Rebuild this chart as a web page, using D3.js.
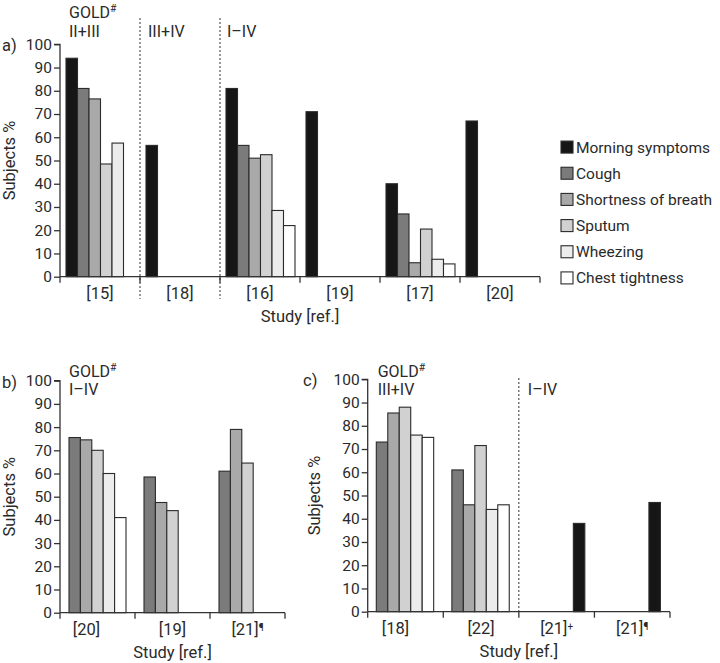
<!DOCTYPE html>
<html>
<head>
<meta charset="utf-8">
<script src="https://cdn.jsdelivr.net/npm/d3@7"></script>
<style>
  html, body { margin: 0; padding: 0; background: #fff; }
  svg text { font-family: Roboto, "DejaVu Sans", sans-serif; fill: #2a2a2a; }
</style>
</head>
<body>
<svg id="chart" width="720" height="663"></svg>
<script>
// ---------- data ----------
const series = ["Morning symptoms", "Cough", "Shortness of breath", "Sputum", "Wheezing", "Chest tightness"];
const seriesColors = ["#161616", "#7b7b7b", "#a9a9a9", "#d1d1d1", "#ececec", "#ffffff"];
const yTicks = [0, 10, 20, 30, 40, 50, 60, 70, 80, 90, 100];

// panel a
const studiesA = ["[15]", "[18]", "[16]", "[19]", "[17]", "[20]"];
const morningA  = [94, 56.5, 81, 71, 40, 67];
const coughA    = [81, null, 56.5, null, 27, null];
const sobA      = [76.5, null, 51, null, 6, null];
const sputumA   = [48.5, null, 52.5, null, 20.5, null];
const wheezingA = [57.5, null, 28.5, null, 7.5, null];
const chestA    = [null, null, 22, null, 5.5, null];

// panel b
const studiesB = ["[20]", "[19]", "[21]¶"];
const coughB    = [75.5, 58.5, 61];
const sobB      = [74.5, 47.5, 79];
const sputumB   = [70, 44, 64.5];
const wheezingB = [60, null, null];
const chestB    = [41, null, null];

// panel c
const studiesC = ["[18]", "[22]", "[21]+", "[21]¶"];
const morningC  = [null, null, 38, 47];
const coughC    = [73, 61, null, null];
const sobC      = [85.5, 46, null, null];
const sputumC   = [88, 71.5, null, null];
const wheezingC = [76, 44, null, null];
const chestC    = [75, 46, null, null];

// ---------- build ----------
const svg = d3.select("#chart");
const colorScale = d3.scaleOrdinal().domain(series).range(seriesColors);
const FS = "15.5px", FT = "16.5px";

function drawPanel(cfg) {
  const g = svg.append("g");
  const x = d3.scaleBand().domain(d3.range(cfg.studies.length)).range([cfg.x0, cfg.x1]);
  const y = d3.scaleLinear().domain([0, 100]).range([cfg.yb, cfg.yt]);
  const inner = d3.scaleBand().domain(d3.range(cfg.nSlots))
    .range([cfg.innerPad, x.bandwidth() - cfg.innerPadR]);

  // bars
  const records = [];
  cfg.values.forEach((arr, si) => {
    arr.forEach((v, gi) => {
      if (v !== null) records.push({ s: cfg.names[si], slot: cfg.slots[si], gi, v });
    });
  });
  g.selectAll("rect.bar").data(records).join("rect")
    .attr("class", "bar")
    .attr("x", d => x(d.gi) + inner(d.slot))
    .attr("width", inner.bandwidth())
    .attr("y", d => y(d.v))
    .attr("height", d => y(0) - y(d.v))
    .attr("fill", d => colorScale(d.s))
    .attr("stroke", "#2b2b2b")
    .attr("stroke-width", 1.1);

  // y axis
  const yAxis = g.append("g").attr("transform", `translate(${cfg.x0},0)`)
    .call(d3.axisLeft(y).tickValues(yTicks).tickSize(6).tickPadding(2));
  yAxis.selectAll("path, line").attr("stroke", "#333").attr("stroke-width", 1.3);
  yAxis.selectAll("text").style("font-size", FS).attr("fill", "#2a2a2a");
  yAxis.select(".domain").attr("d", `M-6,${y(100)}H0V${y(0)}`);

  // x axis
  g.append("line").attr("x1", cfg.x0).attr("x2", cfg.x1)
    .attr("y1", y(0)).attr("y2", y(0)).attr("stroke", "#333").attr("stroke-width", 1.3);
  const bounds = cfg.studies.map((d, i) => x(i)).concat([cfg.x1]);
  g.selectAll("line.xt").data(bounds).join("line").attr("class", "xt")
    .attr("x1", d => d).attr("x2", d => d)
    .attr("y1", y(0)).attr("y2", y(0) + 6)
    .attr("stroke", "#333").attr("stroke-width", 1.3);
  const lab = g.selectAll("text.xl").data(cfg.studies).join("text").attr("class", "xl")
    .attr("x", (d, i) => x(i) + x.bandwidth() / 2 + (cfg.labelDx ? cfg.labelDx[i] : 0))
    .attr("y", y(0) + 22)
    .attr("text-anchor", "middle")
    .style("font-size", FT);
  lab.each(function (d) {
    const t = d3.select(this);
    const m = d.match(/^(\[\d+\])(.*)$/);
    t.append("tspan").text(m[1]);
    if (m[2]) t.append("tspan").text(m[2]).attr("dy", -4).style("font-size", "10px");
  });

  g.append("text").attr("x", (cfg.x0 + cfg.x1) / 2 + (cfg.titleDx || 0)).attr("y", y(0) + 45)
    .attr("text-anchor", "middle").style("font-size", FT).text("Study [ref.]");

  g.append("text")
    .attr("transform", `translate(${cfg.ylabX},${(y(0) + y(100)) / 2}) rotate(-90)`)
    .attr("text-anchor", "middle").style("font-size", FT).text("Subjects %");

  g.append("text").attr("x", cfg.panelX).attr("y", y(100) + 7)
    .style("font-size", FT).text(cfg.panelLabel);

  // dotted separators
  cfg.dividers.forEach(dv => {
    g.append("line").attr("x1", x(dv.at)).attr("x2", x(dv.at))
      .attr("y1", dv.top).attr("y2", dv.bottom)
      .attr("stroke", "#333").attr("stroke-width", 1).attr("stroke-dasharray", "2,2");
  });

  // GOLD annotations
  cfg.notes.forEach(n => {
    const t = g.append("text").attr("x", x(n.at) + n.dx).attr("y", n.y).style("font-size", "16px");
    const parts = n.text.split("#");
    t.append("tspan").text(parts[0]);
    if (n.text.includes("#")) t.append("tspan").text("#").attr("dy", -6).style("font-size", "10.5px");
  });
  return { x, y };
}

// panel a
drawPanel({
  studies: studiesA, x0: 60, x1: 540, yb: 276.7, yt: 44.3,
  nSlots: 6, innerPad: 6, innerPadR: 5,
  names: series, slots: [0, 1, 2, 3, 4, 5],
  values: [morningA, coughA, sobA, sputumA, wheezingA, chestA],
  ylabX: 15, panelX: 2, panelLabel: "a)",
  dividers: [{ at: 1, top: 18, bottom: 299 }, { at: 2, top: 18, bottom: 299 }],
  notes: [
    { at: 0, dx: 9, y: 18, text: "GOLD#" },
    { at: 0, dx: 9, y: 36.5, text: "II+III" },
    { at: 1, dx: 8, y: 36.5, text: "III+IV" },
    { at: 2, dx: 7, y: 36.5, text: "I–IV" }
  ]
});

// panel b
drawPanel({
  studies: studiesB, x0: 60, x1: 285, yb: 612.7, yt: 380.7,
  nSlots: 5, innerPad: 9, innerPadR: 9,
  names: series.slice(1), slots: [0, 1, 2, 3, 4],
  values: [coughB, sobB, sputumB, wheezingB, chestB],
  labelDx: [-11, 0, 0],
  ylabX: 15, panelX: 2, panelLabel: "b)",
  dividers: [],
  notes: [
    { at: 0, dx: 9, y: 377, text: "GOLD#" },
    { at: 0, dx: 9, y: 395, text: "I–IV" }
  ]
});

// panel c
drawPanel({
  studies: studiesC, x0: 367.7, x1: 670, yb: 611.7, yt: 379.3,
  nSlots: 5, innerPad: 8.6, innerPadR: 9.6,
  names: series.slice(1).concat([series[0]]), slots: [0, 1, 2, 3, 4, 4],
  values: [coughC, sobC, sputumC, wheezingC, chestC, morningC],
  labelDx: [-10, 0, 0, 0],
  ylabX: 320, panelX: 303, panelLabel: "c)",
  dividers: [{ at: 2, top: 378, bottom: 611.7 }],
  notes: [
    { at: 0, dx: 10, y: 377, text: "GOLD#" },
    { at: 0, dx: 10, y: 395, text: "III+IV" },
    { at: 2, dx: 9, y: 395, text: "I–IV" }
  ]
});

// legend
const leg = svg.append("g");
const legY = d3.scaleBand().domain(series).range([134, 291]);
leg.selectAll("rect").data(series).join("rect")
  .attr("x", 561).attr("y", d => legY(d) + legY.bandwidth() / 2 - 6)
  .attr("width", 12).attr("height", 12)
  .attr("fill", d => colorScale(d)).attr("stroke", "#2b2b2b").attr("stroke-width", 1.1);
leg.selectAll("text").data(series).join("text")
  .attr("x", 576).attr("y", d => legY(d) + legY.bandwidth() / 2 + 5.5)
  .style("font-size", FS).text(d => d);
</script>
</body>
</html>
